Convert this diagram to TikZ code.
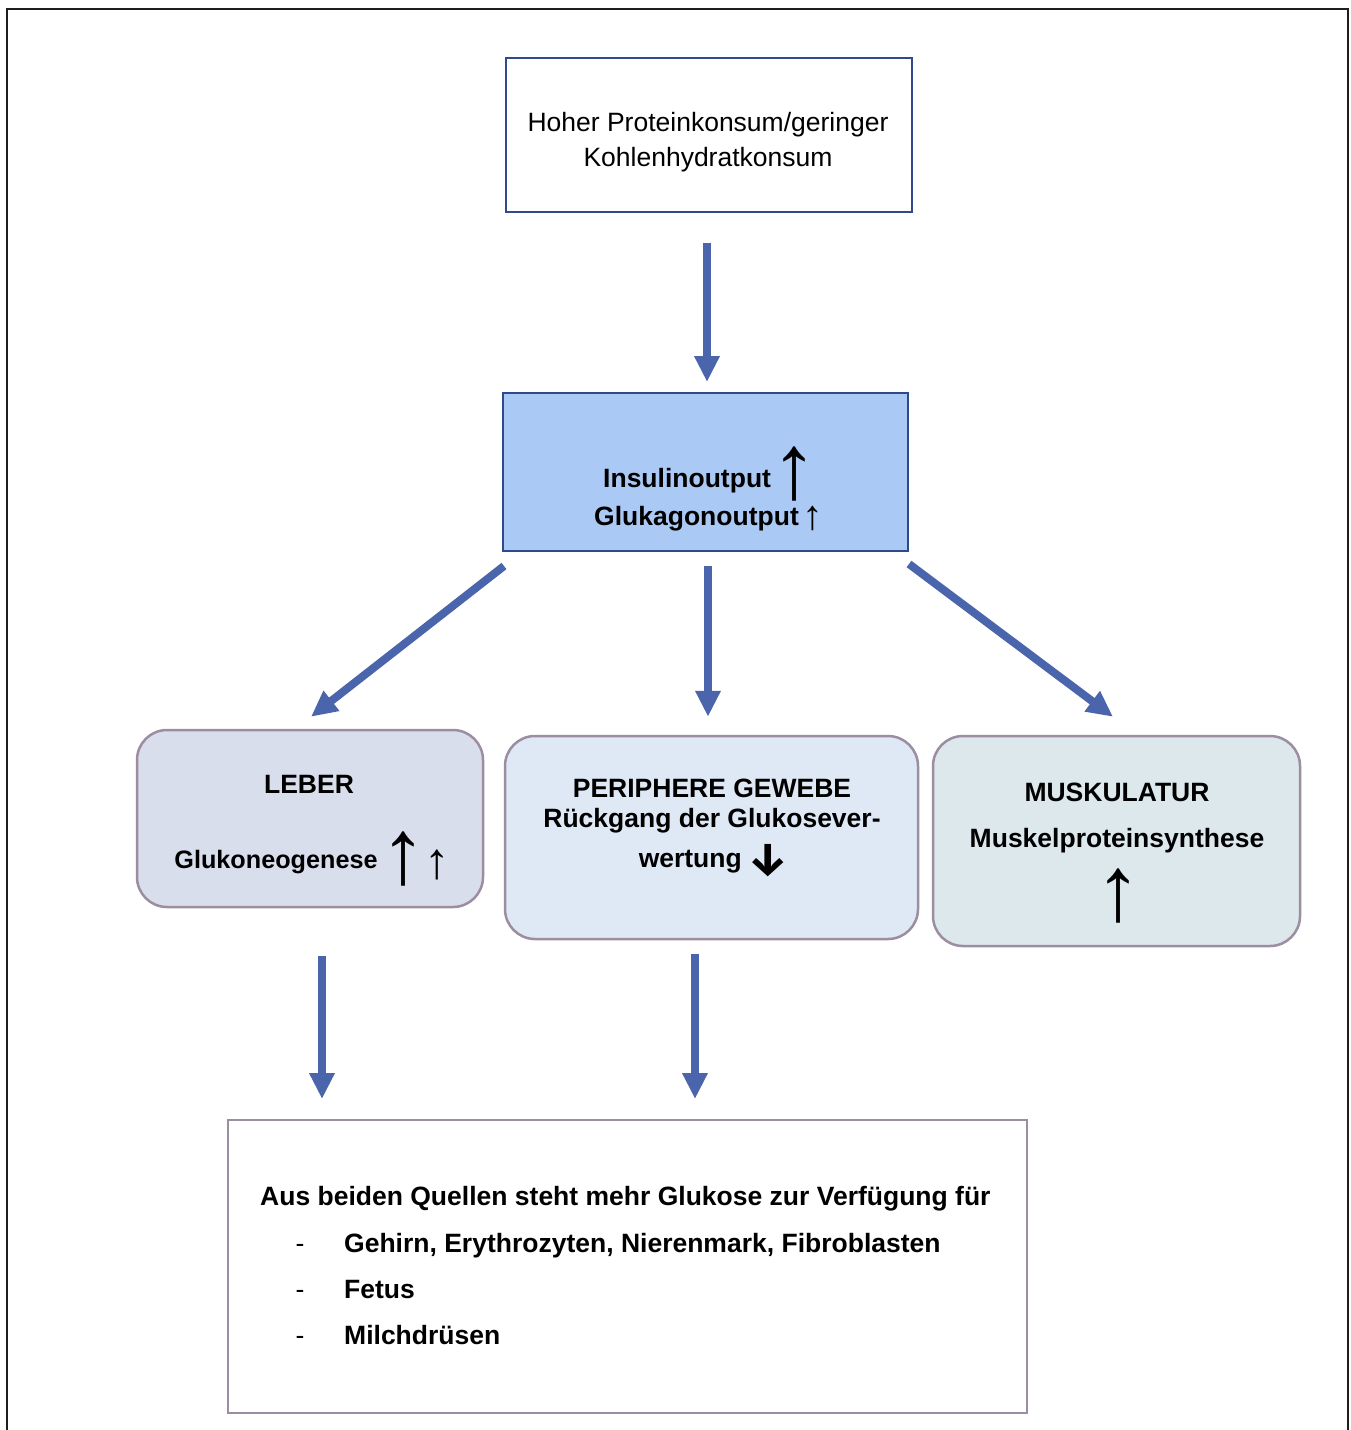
\documentclass[tikz,border=0pt]{standalone}
\usepackage{fontspec}
\setmainfont{Liberation Sans}
\newfontfamily\symfont{Fira Sans}
\usetikzlibrary{arrows.meta}

\definecolor{flowblue}{RGB}{74,101,172}
\definecolor{navyline}{RGB}{47,74,140}
\definecolor{hormonefill}{RGB}{171,201,245}
\definecolor{greyline}{RGB}{156,142,160}
\definecolor{liverfill}{RGB}{217,222,236}
\definecolor{tissuefill}{RGB}{223,233,246}
\definecolor{musclefill}{RGB}{221,232,237}
\definecolor{framegrey}{RGB}{30,30,30}

\begin{document}
\begin{tikzpicture}[x=1pt,y=-1pt,
  plainbox/.style={draw, line width=2pt, inner sep=0pt},
  organbox/.style={draw=greyline, line width=2.5pt, rounded corners=30pt, inner sep=0pt},
  flow/.style={draw=flowblue, line width=8pt, -{Triangle[width=24pt,length=26pt]}},
  txt/.style={inner sep=0pt, anchor=base, font=\fontsize{26.5}{35}\selectfont},
  btxt/.style={txt, font=\fontsize{26.5}{35}\selectfont\bfseries},
  bigup/.style={inner sep=0pt, anchor=south, font=\fontsize{92}{92}\selectfont},
  sym/.style={inner sep=0pt, anchor=south}
]
\useasboundingbox (0,0) rectangle (1351,1430);
\fill[white] (0,0) rectangle (1351,1430);

% page frame, open at the bottom
\draw[framegrey, line width=2pt] (7,1440) -- (7,9) -- (1348,9) -- (1348,1440);

% boxes
\node[plainbox, draw=navyline, fill=white, minimum width=406, minimum height=154] (intake) at (709,135) {};
\node[plainbox, draw=navyline, fill=hormonefill, minimum width=405, minimum height=158] (hormone) at (705.5,472) {};
\node[organbox, fill=liverfill, minimum width=346, minimum height=177] (leber) at (310,818.5) {};
\node[organbox, fill=tissuefill, minimum width=413, minimum height=203] (periph) at (711.5,837.5) {};
\node[organbox, fill=musclefill, minimum width=367, minimum height=210] (muscle) at (1116.5,841) {};
\node[plainbox, draw=greyline, fill=white, minimum width=799, minimum height=293] (summary) at (627.5,1266.5) {};

% texts: intake
\node[txt] (intake1) at (708,131) {Hoher Proteinkonsum/geringer};
\node[txt] (intake2) at (708,166) {Kohlenhydratkonsum};

% texts: hormones
\node[btxt, anchor=base west] (insulin) at (603,487) {Insulinoutput};
\node[bigup] (insulinup) at (794,501) {↑};
\node[btxt, anchor=base west] (glucagon) at (594,525) {Glukagonoutput};
\node[sym, font=\fontsize{41.5}{41.5}\selectfont] (glucagonup) at (813,531) {↑};

% texts: liver
\node[btxt] (leberhead) at (309,793) {LEBER};
\node[btxt, font=\fontsize{25.2}{35}\selectfont\bfseries] (gng) at (276,868) {Glukoneogenese};
\node[bigup] (gngup) at (403,886) {↑};
\node[sym, font=\fontsize{51}{51}\selectfont] (gngup2) at (437,880) {↑};

% texts: peripheral tissue
\node[btxt] (periph1) at (712,797) {PERIPHERE GEWEBE};
\node[btxt] (periph2) at (712,827) {Rückgang der Glukosever-};
\node[btxt, anchor=base east] (periph3) at (742,867) {wertung};
\node[sym, font=\symfont\fontsize{46}{46}\selectfont\bfseries] (periphdown) at (768,877) {↓};

% texts: muscle
\node[btxt] (muscle1) at (1117,801) {MUSKULATUR};
\node[btxt] (muscle2) at (1117,847) {Muskelproteinsynthese};
\node[bigup] (muscleup) at (1118,923) {↑};

% texts: summary
\node[btxt, anchor=base west] (sum0) at (260,1205) {Aus beiden Quellen steht mehr Glukose zur Verfügung für};
\node[txt] (dash1) at (300,1252) {-};
\node[btxt, anchor=base west] (sum1) at (344,1252) {Gehirn, Erythrozyten, Nierenmark, Fibroblasten};
\node[txt] (dash2) at (300,1298) {-};
\node[btxt, anchor=base west] (sum2) at (344,1298) {Fetus};
\node[txt] (dash3) at (300,1344) {-};
\node[btxt, anchor=base west] (sum3) at (344,1344) {Milchdrüsen};

% connectors
\draw[flow] ([shift={(-2,30)}]intake.south) -- ([shift={(1.5,-10)}]hormone.north);
\draw[flow] ([shift={(2,14)}]hormone.south west) -- ([shift={(1,-12)}]leber.north);
\draw[flow] ([shift={(2.5,14)}]hormone.south) -- ([shift={(-3.5,-18)}]periph.north);
\draw[flow] ([shift={(0,12)}]hormone.south east) -- ([shift={(-3.5,-18)}]muscle.north);
\draw[flow] ([shift={(12,48)}]leber.south) -- ([shift={(-305.5,-20)}]summary.north);
\draw[flow] ([shift={(-16.5,14)}]periph.south) -- ([shift={(67.5,-20)}]summary.north);
\end{tikzpicture}
\end{document}
